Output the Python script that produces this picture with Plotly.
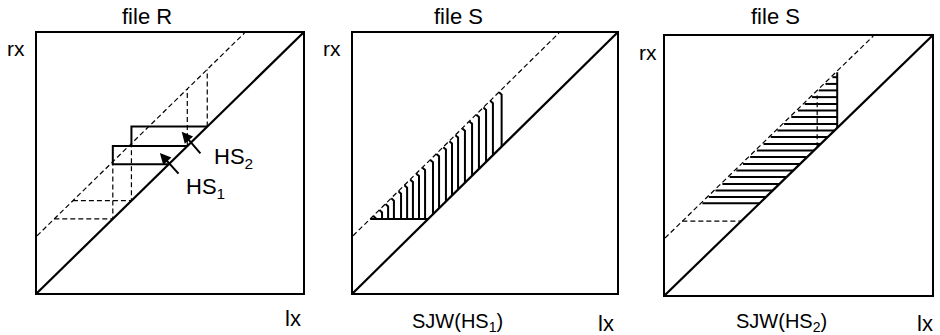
import plotly.graph_objects as go

# ---------------- data (all in 0..100 panel units) ----------------
dash_offset = 22.0                      # dashed band: rx = lx + offset

# panel 1 (file R)
hs1_left, hs1_bottom, hs1_top = 28.5, 49.5, 56.5
hs2_left, hs2_bottom, hs2_top = 35.5, 56.5, 64.0

# panel 2 (SJW(HS1)) vertical hatch positions
p2_base_y = 28.5
p2_vert_x = [8.7, 11.0, 13.3, 15.5, 18.2, 20.5, 22.7, 25.0, 27.3, 30.3,
             32.6, 35.2, 37.5, 39.8, 42.4, 45.1, 47.7, 50.4, 53.0, 56.3]

# panel 3 (SJW(HS2)) horizontal hatch positions
p3_dash_y = 28.5
p3_horiz_y = [35.4, 37.8, 40.3, 42.9, 45.6, 48.1, 50.6, 53.3, 55.8, 58.3,
              61.0, 63.5, 66.0, 68.7, 71.2, 73.7, 76.4, 79.0, 81.5, 84.1]
p3_right_x = 64.5
p3_mid_x = 57.0

W, H = 940, 335
FONT = "Liberation Sans, Arial, Helvetica, sans-serif"
DASH = "5px,3px"

fig = go.Figure()


def seg_trace(segs, ax, width=2.0, dash="solid"):
    xs, ys = [], []
    for s in segs:
        for (x, y) in s:
            xs.append(x)
            ys.append(y)
        xs.append(None)
        ys.append(None)
    fig.add_trace(go.Scatter(
        x=xs, y=ys, mode="lines",
        line=dict(color="black", width=width, dash=dash),
        xaxis="x" + ("" if ax == 1 else str(ax)),
        yaxis="y" + ("" if ax == 1 else str(ax)),
        hoverinfo="skip", showlegend=False, cliponaxis=False))


for ax in (1, 2, 3):
    # main diagonal
    seg_trace([[(0, 0), (100, 100)]], ax, width=2.2)
    # dashed band edge
    seg_trace([[(0, dash_offset), (100 - dash_offset, 100)]], ax, width=1.2, dash=DASH)

# ---- panel 1 ----
seg_trace([
    [(hs1_bottom, hs1_bottom), (hs1_left, hs1_bottom), (hs1_left, hs1_top), (hs1_top, hs1_top)],
    [(hs2_left, hs2_bottom), (hs2_left, hs2_top), (hs2_top, hs2_top)],
], 1, width=2.0)
seg_trace([
    [(hs1_left - dash_offset, hs1_left), (hs1_left, hs1_left), (hs1_left, hs1_bottom)],
    [(hs2_left - dash_offset, hs2_left), (hs2_left, hs2_left), (hs2_left, hs2_bottom)],
    [(hs1_top, hs1_top), (hs1_top, hs1_top + dash_offset)],
    [(hs2_top, hs2_top), (hs2_top, hs2_top + dash_offset)],
], 1, width=1.2, dash=DASH)

# ---- panel 2 ----
p2 = [[(p2_base_y - dash_offset, p2_base_y), (p2_base_y, p2_base_y)]]
for x in p2_vert_x:
    bottom = max(x, p2_base_y)
    top = x + dash_offset - 2.0
    p2.append([(x, bottom), (x, top), (x - 1.0, top + 0.9)])
seg_trace(p2, 2, width=2.0)

# ---- panel 3 ----
p3 = [[(p3_right_x, p3_right_x), (p3_right_x, p3_right_x + dash_offset - 0.5)]]
for y in p3_horiz_y:
    left = y - dash_offset + 0.6
    right = min(y, p3_right_x)
    p3.append([(left, y), (right, y)])
seg_trace(p3, 3, width=2.0)
seg_trace([
    [(p3_dash_y - dash_offset, p3_dash_y), (p3_dash_y, p3_dash_y)],
    [(p3_mid_x, p3_mid_x), (p3_mid_x, p3_mid_x + dash_offset - 2.0)],
], 3, width=1.2, dash=DASH)

# ---------------- layout ----------------
boxes = {1: (37, 303, 33, 293), 2: (353, 617, 33, 293), 3: (665, 932, 36, 295)}
layout = dict(width=W, height=H, margin=dict(l=0, r=0, t=0, b=0),
              paper_bgcolor="white", plot_bgcolor="white", showlegend=False)
for ax, (x0, x1, y0, y1) in boxes.items():
    sfx = "" if ax == 1 else str(ax)
    common = dict(range=[0, 100], showline=True, mirror=True, linecolor="black",
                  linewidth=2, showgrid=False, zeroline=False, showticklabels=False,
                  ticks="", fixedrange=True)
    layout["xaxis" + sfx] = dict(domain=[x0 / W, x1 / W], anchor="y" + sfx, **common)
    layout["yaxis" + sfx] = dict(domain=[1 - y1 / H, 1 - y0 / H], anchor="x" + sfx, **common)
fig.update_layout(**layout)


def label(text, px, py, xanchor="center", size=22):
    fig.add_annotation(text=text, x=px / W, y=1 - py / H, xref="paper", yref="paper",
                       xanchor=xanchor, yanchor="middle", showarrow=False,
                       font=dict(family=FONT, size=size, color="black"))


label("file R", 147, 16)
label("rx", 16, 48, size=21)
label("lx", 293, 318, size=22)
label("HS<sub>2</sub>", 212, 158, xanchor="left")
label("HS<sub>1</sub>", 184, 188, xanchor="left")

label("file S", 458, 16)
label("rx", 332, 48, size=21)
label("SJW(HS<sub>1</sub>)", 457, 322, size=20)
label("lx", 606, 323, size=22)

label("file S", 775, 17)
label("rx", 648, 52, size=21)
label("SJW(HS<sub>2</sub>)", 781, 322, size=20)
label("lx", 925, 323, size=22)

# arrows in panel 1
for (hx, hy, axp, ayp) in [(54.4, 62.0, 20, 23), (46.2, 53.8, 20, 22)]:
    fig.add_annotation(x=hx, y=hy, xref="x", yref="y", text="", showarrow=True,
                       ax=axp, ay=ayp, arrowhead=2, arrowsize=1.1, arrowwidth=2,
                       arrowcolor="black")

fig.write_html("out.html", config={"displayModeBar": False},
               post_script="document.body.style.margin='0';document.body.style.overflow='hidden';")
